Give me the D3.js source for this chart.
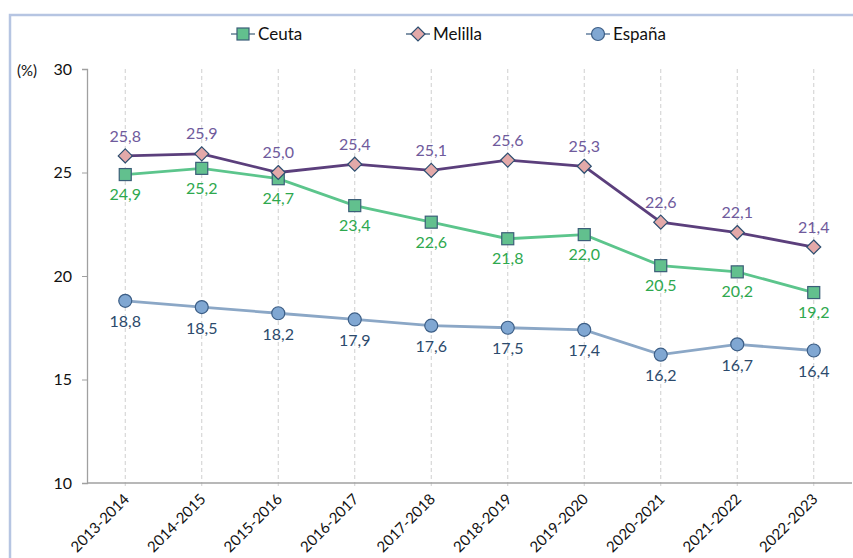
<!DOCTYPE html>
<html>
<head>
<meta charset="utf-8">
<script src="https://cdn.jsdelivr.net/npm/d3@7"></script>
<style>
  body { margin: 0; background: #fff; }
  text { font-family: Lato, "Open Sans", sans-serif; }
</style>
</head>
<body>
<script>
const years = ['2013-2014','2014-2015','2015-2016','2016-2017','2017-2018','2018-2019','2019-2020','2020-2021','2021-2022','2022-2023']
const ceuta = [24.9, 25.2, 24.7, 23.4, 22.6, 21.8, 22.0, 20.5, 20.2, 19.2]
const melilla = [25.8, 25.9, 25.0, 25.4, 25.1, 25.6, 25.3, 22.6, 22.1, 21.4]
const espana = [18.8, 18.5, 18.2, 17.9, 17.6, 17.5, 17.4, 16.2, 16.7, 16.4]
const yTicks = [10, 15, 20, 25, 30]

const series = [
  {name:'Ceuta', values:ceuta, line:'#5cc58c', fill:'#62c08e', stroke:'#3b5e78', label:'#2ea84e', shape:'square', dy:20},
  {name:'Melilla', values:melilla, line:'#5b3f7c', fill:'#e3a9a9', stroke:'#2d4e70', label:'#6f5a9c', shape:'diamond', dy:-20},
  {name:'España', values:espana, line:'#8ba7c6', fill:'#80a7d2', stroke:'#3c5e86', label:'#2c4a6c', shape:'circle', dy:21}
]

const W = 853, H = 558
const svg = d3.select('body').append('svg').attr('width',W).attr('height',H)

// frame
svg.append('path')
  .attr('d','M10,558 V15 H853')
  .attr('fill','none').attr('stroke','#b6c5e2').attr('stroke-width',2.5)

const x = d3.scalePoint().domain(years).range([87,852]).padding(0.5)
const y = d3.scaleLinear().domain([10,30]).range([483,69])

// vertical dashed grid
svg.append('g').selectAll('line').data(years).enter().append('line')
  .attr('x1',d => x(d)).attr('x2',d => x(d))
  .attr('y1',y(30)).attr('y2',y(10)+6)
  .attr('stroke','#cfcfcf').attr('stroke-dasharray','4,3')

// y axis
const yAxis = svg.append('g').attr('transform','translate(87,0)')
  .call(d3.axisLeft(y).tickValues(yTicks).tickSize(5).tickPadding(10))
yAxis.select('.domain').attr('stroke','#a0a0a0').attr('stroke-width',1.3)
yAxis.selectAll('.tick line').attr('stroke','#a0a0a0')
yAxis.selectAll('.tick text').attr('font-size',16).attr('fill','#111').style('font-family','Lato, sans-serif')

svg.append('text').attr('x',17).attr('y',76).attr('font-size',15).attr('fill','#111').text('(%)')

// x axis
svg.append('line').attr('x1',87).attr('x2',852).attr('y1',y(10)).attr('y2',y(10))
  .attr('stroke','#a0a0a0').attr('stroke-width',1.3)
svg.append('g').selectAll('text').data(years).enter().append('text')
  .attr('transform',d => `translate(${x(d)+5},${y(10)+17}) rotate(-45)`)
  .attr('text-anchor','end').attr('font-size',15).attr('fill','#111')
  .text(d => d)

function marker(sel, s){
  if(s.shape=='square'){
    sel.append('rect').attr('x',-6).attr('y',-6).attr('width',12).attr('height',12)
  } else if(s.shape=='diamond'){
    sel.append('path').attr('d','M0,-7 L7,0 L0,7 L-7,0 Z')
  } else {
    sel.append('circle').attr('r',6.5)
  }
  sel.selectAll('*').attr('fill',s.fill).attr('stroke',s.stroke).attr('stroke-width',1.2)
}

const line = d3.line().x((d,i) => x(years[i])).y(d => y(d))
const fmt = v => d3.format('.1f')(v).replace('.',',')

series.forEach(s => {
  svg.append('path').datum(s.values)
    .attr('d',line).attr('fill','none').attr('stroke',s.line).attr('stroke-width',2.8)
  const pts = svg.append('g').selectAll('g').data(s.values).enter().append('g')
    .attr('transform',(d,i) => `translate(${x(years[i])},${y(d)})`)
  pts.each(function(){ marker(d3.select(this), s) })
  svg.append('g').selectAll('text').data(s.values).enter().append('text')
    .attr('x',(d,i) => x(years[i])).attr('y',d => y(d)+s.dy)
    .attr('dy','0.35em').attr('text-anchor','middle')
    .attr('font-size',16).attr('fill',s.label)
    .text(fmt)
})

// legend
const legX = [243, 418, 598]
const leg = svg.append('g').selectAll('g').data(series).enter().append('g')
  .attr('transform',(d,i) => `translate(${legX[i]},34)`)
leg.append('line').attr('x1',-12).attr('x2',12).attr('stroke',d => d.line).attr('stroke-width',2.8)
leg.each(function(d){ marker(d3.select(this), d) })
leg.append('text').attr('x',15).attr('dy','0.35em').attr('font-size',17).attr('fill','#111').text(d => d.name)
</script>
</body>
</html>
